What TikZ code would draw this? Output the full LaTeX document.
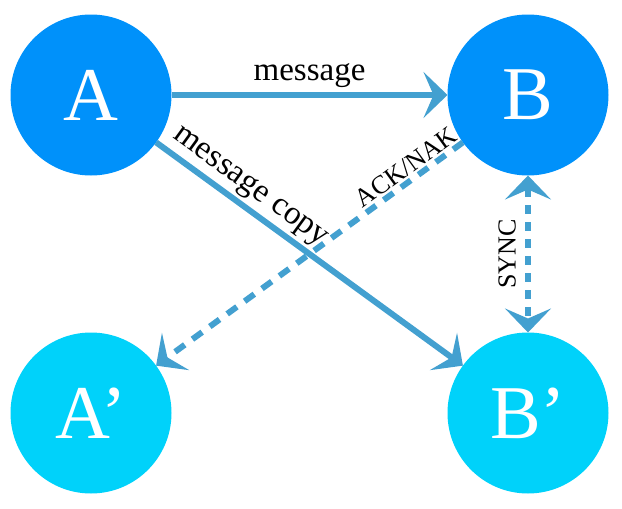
\documentclass[tikz,border=0pt]{standalone}
\usepackage{fontspec}
\setmainfont{Liberation Serif}
\usetikzlibrary{arrows.meta}

\definecolor{primarynode}{RGB}{0,145,250}
\definecolor{replicanode}{RGB}{0,210,250}
\definecolor{linkblue}{RGB}{67,160,208}

\begin{document}
\begin{tikzpicture}[x=1pt,y=-1pt,
  station/.style={circle, fill=#1, minimum size=161pt, inner sep=0pt, outer sep=0pt,
    text=white, font=\fontsize{76}{80}\selectfont},
  flow/.style={draw=linkblue, line width=6pt, -{Stealth[length=24pt, width=46pt, inset=10pt]}},
  ackdash/.style={dash pattern=on 12pt off 9.5pt},
  syncdash/.style={dash pattern=on 9pt off 8pt},
  biglabel/.style={font=\fontsize{33}{38}\selectfont, inner sep=3pt, text=black},
  smalllabel/.style={font=\fontsize{26}{30}\selectfont, inner sep=2pt, text=black}
]
\path[use as bounding box] (0,0) rectangle (622,509);

% the four stations
\node[station=primarynode] (A)  at (91,95)  {A};
\node[station=primarynode] (B)  at (528,95) {B};
\node[station=replicanode] (Ap) at (91,413) {A’};
\node[station=replicanode] (Bp) at (528,413) {B’};

% primary traffic and its copy
\draw[flow] (A) -- node[above=1pt, biglabel] {message} (B);
\draw[flow] (A) -- node[sloped, above, pos=0.27, biglabel] {message copy} (Bp);

% acknowledgement back to the replica of A
\draw[flow, ackdash] (B) -- node[sloped, above, pos=0.16, smalllabel] {ACK/NAK} (Ap);

% synchronisation between B and its replica
\draw[flow, syncdash, {Stealth[length=24pt, width=46pt, inset=10pt]}-{Stealth[length=24pt, width=46pt, inset=10pt]}]
  (B) -- node[midway, rotate=90, anchor=south, smalllabel, inner sep=9pt] {SYNC} (Bp);
\end{tikzpicture}
\end{document}
